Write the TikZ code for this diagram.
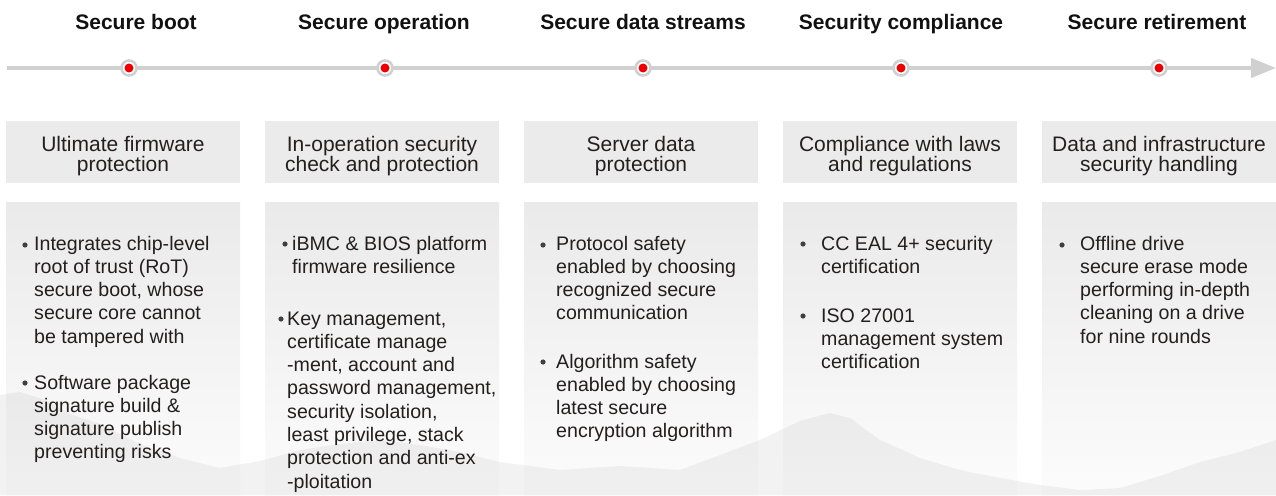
\documentclass[tikz,border=0pt]{standalone}
\usepackage{fontspec}
\setmainfont{Liberation Sans}
\usetikzlibrary{arrows.meta}

\definecolor{axisgray}{HTML}{D0D0D0}
\definecolor{headfill}{HTML}{EBEBEB}
\definecolor{bodytop}{HTML}{EAEAEA}
\definecolor{bodybottom}{HTML}{FCFCFC}
\definecolor{inktext}{HTML}{231F1E}
\definecolor{titleink}{HTML}{111111}
\definecolor{dotred}{HTML}{EE0000}
\definecolor{bulletgray}{HTML}{404040}
\definecolor{hillgray}{HTML}{B4B4B4}

\tikzset{
  stagetitle/.style={font=\fontsize{21}{24}\selectfont\bfseries, text=titleink, anchor=base, inner sep=0pt},
  headbox/.style={fill=headfill, draw=none, minimum width=234pt, minimum height=62pt, inner sep=0pt, anchor=north west},
  % multi-line nodes: the base anchor sits on the last line
  headtext/.style={font=\fontsize{21}{20.5}\selectfont, text=inktext, align=center, anchor=base, inner sep=0pt},
  bodybox/.style={top color=bodytop, bottom color=bodybottom, draw=none, minimum width=234pt, minimum height=293pt, inner sep=0pt, anchor=north west},
  itemtext/.style={font=\fontsize{19.6}{23.3}\selectfont, text=inktext, align=left, anchor=base west, inner sep=0pt},
  milestone/.style={circle, fill=white, draw=axisgray, line width=2.5pt, minimum size=15pt, inner sep=0pt,
    path picture={\fill[dotred] (path picture bounding box.center) circle (4.5pt);}},
  bulletdot/.style={fill=bulletgray},
}

\begin{document}
\begin{tikzpicture}[x=1pt,y=-1pt]
\useasboundingbox (0,0) rectangle (1276,495);
\fill[white] (0,0) rectangle (1276,495);

% column panels
\foreach \cx/\k in {6/1,265/2,524/3,783/4,1042/5}{
  \node[headbox] (head\k) at (\cx,121) {};
  \node[bodybox] (body\k) at (\cx,202) {};
}

% faint mountain range along the bottom
\fill[hillgray, opacity=0.17]
  (0,495) -- (0,395) -- (20,392) -- (45,400) -- (70,414) -- (100,424) -- (140,444)
  -- (180,458) -- (220,468) -- (260,461) -- (300,450) -- (340,444) -- (380,440)
  -- (420,445) -- (460,452) -- (500,462) -- (560,470) -- (620,466) -- (680,470)
  -- (720,455) -- (760,440) -- (800,421) -- (830,413) -- (850,418) -- (880,440)
  -- (920,458) -- (960,470) -- (1000,478) -- (1040,485) -- (1080,490) -- (1120,488)
  -- (1160,476) -- (1200,462) -- (1240,452) -- (1276,440) -- (1276,495) -- cycle;

% stage titles
\node[stagetitle] (t1) at (136,30) {Secure boot};
\node[stagetitle] (t2) at (384,30) {Secure operation};
\node[stagetitle] (t3) at (643,30) {Secure data streams};
\node[stagetitle] (t4) at (901,30) {Security compliance};
\node[stagetitle] (t5) at (1157,30) {Secure retirement};

% time axis with milestones
\coordinate (axisstart) at (7,68);
\coordinate (axisend) at (1276,68);
\draw[axisgray, line width=4.5pt, -{Triangle[length=25pt,width=19pt]}] (axisstart) -- (axisend);
\node[milestone] (m1) at (129,68) {};
\node[milestone] (m2) at (385,68) {};
\node[milestone] (m3) at (643,68) {};
\node[milestone] (m4) at (901,68) {};
\node[milestone] (m5) at (1159,68) {};

% panel headings (positioned by the baseline of their last line)
\node[headtext] (h1) at (123,171.5) {Ultimate firmware\\protection};
\node[headtext] (h2) at (382,171.5) {In-operation security\\check and protection};
\node[headtext] (h3) at (641,171.5) {Server data\\protection};
\node[headtext] (h4) at (900,171.5) {Compliance with laws\\and regulations};
\node[headtext] (h5) at (1159,171.5) {Data and infrastructure\\security handling};

% bullet items (positioned by the baseline of their last line)
\node[itemtext] (i11) at (34,343.2) {Integrates chip-level\\root of trust (RoT)\\secure boot, whose\\secure core cannot\\be tampered with};
\node[itemtext] (i12) at (34,458.9) {Software package\\signature build \&\\signature publish\\preventing risks};
\node[itemtext] (i21) at (292,273.3) {iBMC \& BIOS platform\\firmware resilience};
\node[itemtext] (i22) at (287,488.1) {Key management,\\certificate manage\\-ment, account and\\password management,\\security isolation,\\least privilege, stack\\protection and anti-ex\\-ploitation};
\node[itemtext] (i31) at (556,319.9) {Protocol safety\\enabled by choosing\\recognized secure\\communication};
\node[itemtext] (i32) at (556,437.9) {Algorithm safety\\enabled by choosing\\latest secure\\encryption algorithm};
\node[itemtext] (i41) at (821,273.3) {CC EAL 4+ security\\certification};
\node[itemtext] (i42) at (821,368.6) {ISO 27001\\management system\\certification};
\node[itemtext] (i51) at (1080,343.2) {Offline drive\\secure erase mode\\performing in-depth\\cleaning on a drive\\for nine rounds};

% bullet markers
\foreach \bx/\by in {25/245, 25/383, 285/244, 281/319, 543/245, 543/362, 803/244, 803/316, 1062/245}{
  \fill[bulletdot] (\bx,\by) circle (2.6pt);
}
\end{tikzpicture}
\end{document}
